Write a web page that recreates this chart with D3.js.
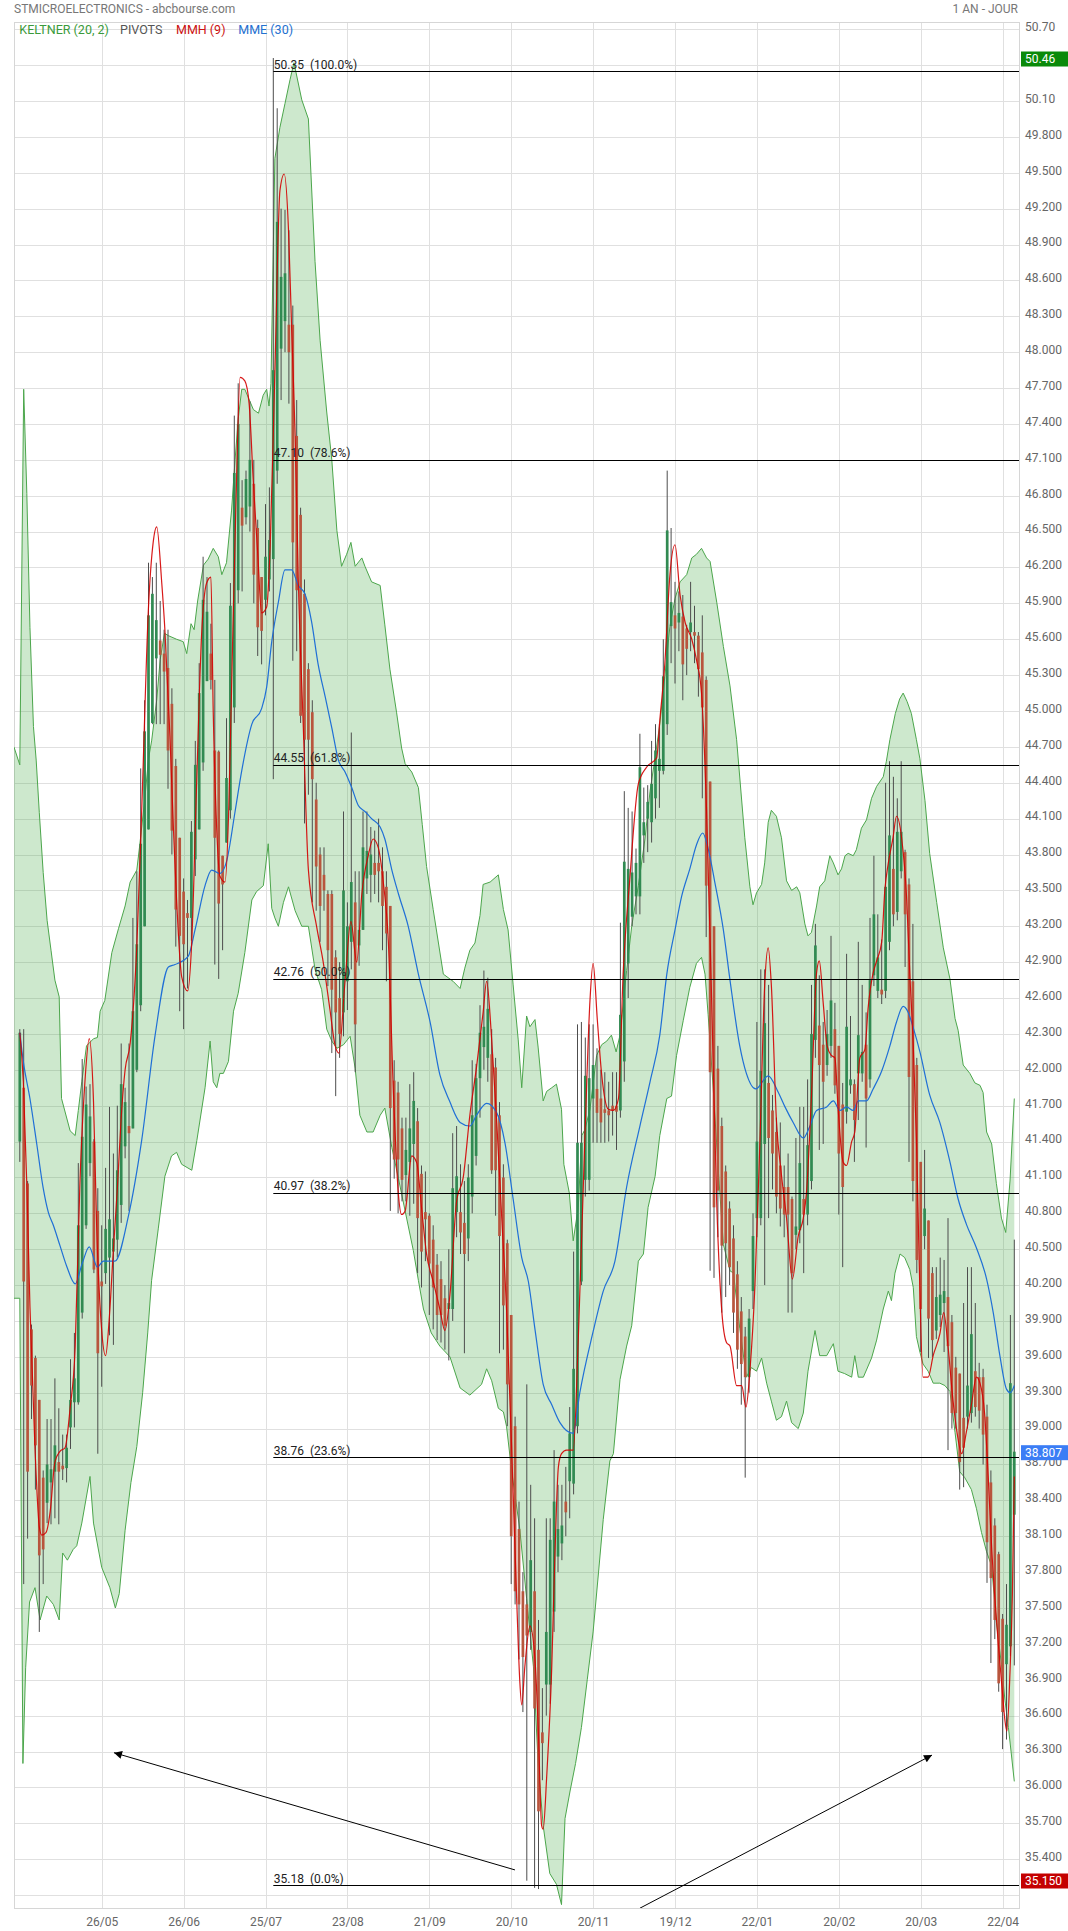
<!DOCTYPE html>
<html><head><meta charset="utf-8">
<script src="https://cdn.jsdelivr.net/npm/d3@7"></script>
<style>
html,body{margin:0;padding:0;background:#fff;}
svg{display:block;font-family:Roboto,"Noto Sans",sans-serif;}
</style></head><body>
<svg id="chart" width="1068" height="1931"></svg>
<script>
// ---------------- DATA ----------------
const xTickIndex = [21,42,63,84,105,126,147,168,189,210,231,252];
const xTickLabels = ["26/05","26/06","25/07","23/08","21/09","20/10","20/11","19/12","22/01","20/02","20/03","22/04"];
const yTicks = [50.7,50.4,50.1,49.8,49.5,49.2,48.9,48.6,48.3,48.0,47.7,47.4,47.1,46.8,46.5,46.2,45.9,45.6,45.3,45.0,44.7,44.4,44.1,43.8,43.5,43.2,42.9,42.6,42.3,42.0,41.7,41.4,41.1,40.8,40.5,40.2,39.9,39.6,39.3,39.0,38.7,38.4,38.1,37.8,37.5,37.2,36.9,36.6,36.3,36.0,35.7,35.4,35.1];
const yTickLabels = ["50.70","","50.10","49.800","49.500","49.200","48.900","48.600","48.300","48.000","47.700","47.400","47.100","46.800","46.500","46.200","45.900","45.600","45.300","45.000","44.700","44.400","44.100","43.800","43.500","43.200","42.900","42.600","42.300","42.000","41.700","41.400","41.100","40.800","40.500","40.200","39.900","39.600","39.300","39.000","38.700","38.400","38.100","37.800","37.500","37.200","36.900","36.600","36.300","36.000","35.700","35.400",""];

const opens = [
41.40,41.85,41.05,39.83,39.59,39.24,38.59,38.38,38.55,38.64,
38.72,38.69,38.67,39.01,39.22,39.22,39.97,40.70,41.22,41.40,
40.82,40.23,40.30,40.43,40.48,40.58,40.87,41.36,41.53,41.51,
42.00,42.54,43.20,44.01,44.90,45.44,45.59,45.48,45.36,45.06,
44.54,43.94,43.49,43.31,43.27,43.76,44.01,44.57,45.25,45.48,
44.67,44.66,43.79,43.90,44.17,45.03,46.01,46.70,46.62,46.71,
46.90,46.53,46.12,45.93,46.10,46.27,47.01,48.03,48.26,48.23,
48.23,47.30,46.64,45.98,45.35,44.99,44.26,43.80,43.63,43.47,
43.47,42.94,42.60,42.48,42.74,43.07,43.40,43.04,43.17,43.60,
43.63,43.73,43.73,43.66,43.53,43.37,41.91,41.81,41.51,41.12,
41.23,41.38,41.57,41.13,40.81,40.78,40.58,40.37,40.25,40.09,
40.00,40.00,40.81,40.81,40.72,40.59,40.94,41.28,41.93,42.19,
42.10,42.13,42.02,41.62,41.10,40.55,39.95,39.02,38.16,37.64,
37.53,37.30,37.64,37.15,36.46,36.86,36.86,37.47,37.93,38.04,
38.39,38.56,38.54,39.02,40.23,41.08,41.08,41.76,41.84,41.76,
41.67,41.66,41.70,41.70,41.66,42.07,42.89,43.28,43.45,43.45,
43.96,44.10,44.07,44.27,44.50,44.50,44.89,45.71,45.80,45.74,
45.79,45.69,45.66,45.66,45.63,45.49,45.26,44.41,43.20,42.01,
41.53,41.15,40.84,40.59,40.29,39.98,39.77,39.43,40.15,40.76,
40.76,41.38,41.89,41.66,41.48,41.20,41.02,41.02,40.92,40.62,
40.66,40.92,40.79,41.07,42.25,42.37,42.21,42.04,42.20,42.34,
42.20,41.71,41.65,41.87,41.88,41.97,41.97,42.21,41.92,42.79,
42.66,42.67,42.66,43.07,43.68,43.32,43.66,43.82,43.55,42.74,
42.04,41.23,40.61,40.74,40.30,39.82,39.95,40.05,40.10,39.89,
39.51,39.46,39.09,39.10,39.13,39.48,39.43,39.43,39.10,38.55,
38.19,37.95,37.41,37.03,37.18,38.28];
const highs = [
42.34,42.34,41.07,39.87,39.61,39.24,38.65,39.08,39.08,39.42,
39.17,38.95,38.95,39.58,39.80,41.22,42.09,41.86,41.88,41.42,
41.01,40.70,41.18,41.69,41.30,41.70,42.22,41.85,42.22,43.27,
43.66,44.52,45.09,46.24,46.12,46.24,45.92,45.68,45.68,45.19,
44.60,43.94,43.60,43.42,44.08,44.75,45.40,46.29,46.12,45.73,
45.26,44.67,43.79,44.94,46.07,47.47,47.74,46.93,47.01,47.59,
47.10,46.60,46.12,46.73,46.87,50.46,50.04,49.20,49.19,49.02,
48.39,47.60,46.70,46.10,45.40,45.09,44.40,43.86,43.86,43.50,
43.50,43.00,42.90,44.16,43.40,44.82,43.66,43.66,44.16,44.16,
44.03,44.00,44.10,43.86,43.66,43.37,42.08,41.90,41.60,41.60,
41.88,41.98,41.68,41.20,41.15,40.80,40.70,40.46,40.40,40.20,
40.50,41.47,41.53,41.21,41.07,41.21,42.08,42.05,42.54,42.83,
42.77,42.34,42.10,41.73,41.21,40.58,39.95,39.10,38.39,37.80,
39.37,38.53,38.25,37.40,36.83,38.25,38.25,38.82,38.53,38.53,
38.68,39.18,40.48,42.38,42.40,42.27,42.38,42.38,42.18,42.00,
41.98,41.90,41.98,41.98,43.23,44.33,44.19,44.16,43.85,44.81,
44.36,44.38,44.75,44.89,44.89,45.60,47.01,46.53,46.08,46.00,
45.97,45.72,46.08,45.88,45.66,45.80,45.29,44.41,43.20,42.20,
41.60,41.20,40.90,40.70,40.40,40.10,39.85,40.00,40.80,42.40,
42.84,42.84,42.71,41.79,41.60,41.56,41.20,41.30,40.94,41.43,
41.69,41.69,41.92,42.71,43.22,42.79,42.40,42.50,43.12,42.56,
42.20,41.89,42.97,42.45,41.92,43.07,42.71,42.48,43.27,43.79,
43.30,43.09,44.40,44.58,44.45,44.27,44.58,43.84,43.60,43.22,
42.10,41.23,41.33,40.74,40.35,40.35,40.43,40.41,40.76,39.95,
39.60,39.46,40.05,40.35,40.35,40.05,39.55,39.50,39.20,38.65,
38.25,37.97,37.45,37.70,39.95,40.58];
const lows = [
41.23,37.70,38.08,39.08,38.49,37.30,37.70,38.21,38.20,38.25,
38.20,38.57,38.55,38.83,39.01,39.20,39.92,40.67,41.11,40.30,
38.79,39.35,40.21,39.78,39.70,40.43,40.72,41.26,40.82,41.51,
41.98,42.49,43.20,44.01,44.89,44.89,44.89,44.89,44.35,43.80,
43.03,42.49,42.34,42.68,43.08,43.62,44.01,44.50,45.25,45.18,
42.88,42.76,43.00,43.90,44.10,44.90,45.90,46.00,46.56,46.50,
45.90,45.46,45.39,45.80,46.00,44.43,46.90,47.60,48.00,47.57,
45.42,45.50,44.90,44.06,44.30,43.40,43.33,43.07,43.33,42.70,
42.14,41.78,42.10,42.28,42.50,42.84,41.98,42.87,43.17,43.47,
43.40,43.47,43.40,43.00,42.74,40.82,41.09,40.80,40.90,40.90,
40.78,40.88,40.30,40.18,40.40,39.95,39.83,39.74,39.72,39.66,
39.57,39.90,40.60,40.46,39.63,40.40,40.80,41.20,41.60,42.00,
41.90,41.13,40.78,39.63,39.66,39.02,37.70,37.53,37.07,36.63,
35.22,37.15,35.16,35.15,36.06,36.60,36.70,37.30,37.80,37.90,
38.10,38.25,38.45,38.96,40.20,40.94,40.99,41.39,41.39,41.39,
41.39,41.40,41.45,41.33,41.60,41.90,42.60,43.20,43.30,43.30,
43.73,43.82,43.90,44.10,44.19,44.47,44.80,45.40,45.23,45.50,
45.09,45.30,45.50,45.40,45.12,44.27,43.11,40.32,40.26,40.60,
39.97,40.10,40.20,39.80,39.50,39.20,38.59,39.30,40.00,40.60,
40.70,40.20,40.76,41.00,40.80,40.69,40.60,39.97,39.97,40.50,
40.55,40.30,40.70,41.00,42.10,41.33,41.38,41.95,42.10,41.80,
40.79,40.35,41.55,41.80,41.23,41.58,41.90,41.35,41.85,42.70,
42.60,42.55,42.60,43.00,43.20,43.25,43.60,42.86,41.23,40.90,
40.30,39.64,40.50,39.59,39.60,39.75,39.85,39.64,38.82,39.00,
39.00,38.49,38.51,39.00,39.05,39.10,39.00,38.70,37.71,37.04,
37.24,36.80,36.32,36.40,37.10,37.02];
const closes = [
42.31,40.23,38.64,39.36,38.86,37.94,37.99,38.70,38.66,38.86,
38.64,38.66,38.84,39.24,39.42,40.70,41.44,41.71,41.61,40.33,
39.63,40.19,40.67,40.75,40.59,41.16,41.88,41.73,41.47,42.49,
43.05,43.89,44.83,45.80,45.98,45.76,45.47,45.33,44.67,44.00,
43.34,43.12,43.05,43.27,43.99,44.55,45.15,45.93,45.83,45.26,
43.94,43.39,43.55,44.44,45.88,46.99,47.40,46.55,46.94,47.10,
46.14,45.70,45.67,46.29,46.43,47.85,49.09,48.63,48.66,48.00,
46.41,46.01,44.96,44.76,44.76,44.43,43.70,43.37,43.50,43.00,
42.67,42.48,42.30,43.50,43.20,43.57,42.38,43.17,43.86,43.83,
43.80,43.63,43.66,43.37,43.14,41.68,41.25,41.25,41.08,41.33,
41.51,41.74,40.76,40.48,40.75,40.38,40.18,39.95,39.95,39.86,
40.05,41.01,41.11,40.64,40.46,41.10,41.62,41.93,42.31,42.36,
42.51,41.16,41.16,40.61,40.03,39.37,38.10,37.64,37.53,37.09,
37.27,37.90,36.66,35.80,36.37,37.30,38.07,38.39,38.16,38.19,
38.30,38.96,39.50,41.39,41.39,41.95,41.93,42.04,41.64,41.56,
41.64,41.62,41.66,41.65,42.46,43.74,43.68,43.65,43.73,44.53,
44.07,44.24,44.39,44.67,44.60,45.29,46.51,45.91,45.69,45.82,
45.39,45.52,45.74,45.63,45.35,45.03,43.54,41.98,40.85,40.99,
40.53,40.55,40.35,39.97,39.66,39.54,39.43,39.92,40.61,41.40,
41.99,42.39,41.43,41.30,40.94,40.84,40.79,40.79,40.30,40.69,
41.22,40.79,41.37,42.30,43.04,42.04,41.90,42.30,42.58,41.87,
41.30,41.02,42.36,41.92,41.58,42.29,42.15,41.76,42.75,43.30,
42.94,42.63,43.53,43.96,43.30,43.99,43.99,43.30,41.94,41.07,
40.41,40.00,40.84,39.92,39.74,40.10,40.12,40.15,39.69,39.13,
39.13,38.72,38.84,39.36,39.79,39.18,39.15,38.95,38.05,37.75,
37.40,36.87,36.63,37.36,39.38,38.807];

// Keltner (20,2) band edges: [candle index, value]
const keltnerUpper = [[-1.5,44.70],[0,44.55],[1,47.69],[1.8,46.82],[2.6,45.70],[3.5,44.87],[4.2,44.59],[5,44.15],[6,43.65],[7,43.25],[8,43.0],[9,42.75],[10.1,42.61],[10.7,41.76],[12.9,41.49],[14.2,41.45],[15.0,41.66],[15.9,41.90],[17.1,42.20],[18.9,42.26],[19.9,42.27],[20.6,42.49],[21.8,42.58],[23.6,42.98],[25.3,43.18],[27.0,43.37],[28.3,43.57],[30.0,43.67],[30.8,43.89],[32.1,44.28],[33.0,44.60],[33.8,44.75],[35.1,45.09],[36.0,45.43],[37.1,45.65],[38.1,45.63],[40.2,45.60],[41.9,45.58],[42.8,45.48],[43.9,45.73],[44.7,45.68],[45.6,45.92],[47.1,46.22],[48.3,46.27],[49.6,46.36],[50.9,46.29],[51.8,46.14],[53.0,46.24],[54.3,46.68],[55.2,47.10],[56.0,47.44],[56.9,47.69],[57.7,47.69],[58.6,47.62],[59.9,47.52],[61.2,47.49],[62.4,47.64],[63.3,47.69],[63.9,47.55],[64.4,47.74],[65.4,49.62],[66.7,49.88],[68.0,50.08],[69.3,50.28],[70.3,50.42],[72.3,50.11],[74.0,49.95],[75.7,48.76],[77.0,48.10],[78.7,47.50],[80.0,47.10],[81.3,46.51],[82.5,46.21],[83.8,46.31],[84.9,46.41],[86.0,46.21],[87.7,46.28],[88.5,46.21],[90.2,46.08],[92.4,46.05],[93.6,45.72],[94.9,45.35],[96.6,44.99],[97.9,44.69],[98.8,44.56],[100.5,44.49],[102.2,44.36],[103.2,44.05],[104.3,43.70],[106.0,43.34],[108.6,42.80],[111.1,42.74],[112.9,42.68],[114.1,42.85],[115.4,43.00],[116.7,43.06],[118.0,43.29],[118.8,43.55],[120.6,43.57],[122.7,43.63],[124.0,43.34],[125.2,43.17],[126.5,42.71],[127.8,42.25],[128.7,41.85],[129.95,42.45],[130.8,42.36],[132.1,42.42],[132.9,42.19],[134.2,41.74],[135.1,41.82],[136.4,41.85],[137.6,41.88],[138.9,41.67],[139.5,41.21],[140.9,40.97],[141.9,40.57],[143.2,40.85],[144.1,41.45],[144.9,41.50],[146.2,41.67],[147.9,42.12],[149.2,42.21],[150.5,42.24],[151.7,42.29],[152.9,42.15],[153.9,42.29],[155.6,42.83],[156.9,43.20],[158.6,43.54],[160.3,43.93],[161.6,44.33],[162.9,44.61],[164.1,44.89],[165.4,45.29],[166.7,45.71],[168.0,45.94],[169.3,46.08],[171.0,46.14],[172.3,46.28],[173.5,46.31],[174.8,46.36],[176.1,46.28],[177.0,46.25],[178.7,45.91],[180.4,45.54],[182.1,45.21],[183.8,44.76],[185.9,43.94],[187.2,43.53],[188.0,43.38],[188.9,43.48],[190.2,43.55],[191.0,43.73],[191.9,44.07],[192.7,44.17],[194.0,44.12],[195.3,43.94],[196.6,43.58],[197.9,43.50],[199.2,43.53],[200.0,43.48],[201.3,43.22],[202.1,43.12],[203.0,43.15],[204.3,43.37],[205.1,43.53],[206.4,43.58],[207.7,43.79],[208.6,43.73],[209.8,43.63],[210.7,43.68],[211.6,43.79],[212.4,43.81],[213.7,43.79],[214.5,43.84],[215.8,44.02],[217.1,44.09],[218.4,44.27],[219.7,44.37],[221.4,44.45],[222.2,44.58],[223.1,44.76],[224.5,44.98],[225.6,45.10],[226.5,45.15],[227.5,45.08],[228.6,44.98],[229.9,44.76],[230.8,44.60],[232.1,44.25],[233.3,43.81],[235.1,43.40],[236.8,43.02],[238.5,42.76],[239.8,42.43],[240.6,42.33],[241.9,42.04],[243.6,41.97],[244.9,41.89],[246.2,41.87],[247.0,41.81],[247.9,41.48],[249.2,41.38],[250.4,41.05],[251.7,40.76],[252.8,40.64],[253.9,41.07],[255,41.76]];
const keltnerLower = [[-1.5,40.09],[0,40.09],[0.8,36.2],[1.5,37.0],[2.5,37.55],[3.9,37.67],[5.2,37.40],[6.9,37.60],[8.6,37.53],[10.1,37.40],[11.0,37.96],[12.2,37.90],[13.7,37.99],[14.6,38.02],[15.9,38.21],[18.0,38.60],[18.9,38.21],[21.0,37.84],[23.1,37.67],[24.5,37.50],[25.5,37.62],[27,38.15],[28.5,38.55],[30,38.85],[31.5,39.3],[32.8,39.8],[33.8,40.24],[35.5,40.67],[37.2,41.11],[38.9,41.28],[40.2,41.31],[41.5,41.21],[44.1,41.16],[45.4,41.41],[47.5,41.85],[48.8,42.24],[49.6,41.90],[50.5,41.85],[51.3,41.97],[52.2,41.97],[53.5,42.07],[54.8,42.49],[56.0,42.64],[57.7,42.98],[59.5,43.42],[60.7,43.49],[62.45,43.54],[63.7,43.89],[64.6,43.35],[65.4,43.27],[66.3,43.20],[67.6,43.40],[68.9,43.53],[70.6,43.33],[72.3,43.20],[74.0,43.20],[75.7,42.84],[77.4,42.67],[78.7,42.34],[80.0,42.24],[81.3,42.18],[83.0,42.21],[84.7,42.28],[86.0,42.01],[87.2,41.62],[89.0,41.48],[90.6,41.48],[92.4,41.62],[93.6,41.68],[95.4,41.35],[97.1,41.09],[98.8,40.82],[100.9,40.49],[102.2,40.24],[103.5,40.0],[105.5,39.8],[107.7,39.69],[110.3,39.60],[112.9,39.34],[115.4,39.28],[118.4,39.37],[119.7,39.50],[121.0,39.40],[122.7,39.17],[124.0,39.14],[124.8,39.02],[126.1,38.65],[128.2,38.16],[129.95,37.58],[131.7,37.01],[132.9,36.20],[134.2,35.68],[135.9,35.28],[137.6,35.19],[138.9,35.02],[139.8,35.74],[141.1,35.97],[142.5,36.2],[144,36.5],[145.5,36.9],[147,37.3],[148.4,37.8],[149.6,38.24],[151.3,38.73],[152.2,38.79],[153.9,39.41],[155.6,39.69],[156.9,39.86],[158.6,40.40],[159.9,40.46],[161.1,40.85],[162.9,41.11],[164.1,41.45],[165.9,41.76],[167.1,41.78],[168.4,42.12],[170.1,42.41],[171.8,42.69],[173.5,42.89],[174.8,42.94],[175.7,42.80],[176.5,42.46],[177.8,41.84],[179.1,41.16],[180.4,40.54],[182.1,40.32],[183.0,40.30],[184.6,39.84],[186.3,39.43],[187.6,39.51],[188.9,39.48],[190.2,39.59],[191.5,39.38],[192.7,39.23],[194.0,39.07],[195.3,39.10],[196.6,39.23],[197.9,39.05],[199.6,39.00],[200.9,39.13],[202.1,39.48],[203.9,39.82],[205.1,39.61],[206.9,39.61],[208.6,39.71],[209.8,39.48],[211.5,39.46],[213.3,39.43],[214.1,39.61],[215.0,39.43],[216.3,39.43],[218.4,39.59],[219.7,39.74],[221.4,40.00],[222.7,40.15],[223.5,40.07],[224.4,40.30],[225.7,40.46],[226.9,40.43],[228.2,40.33],[229.1,40.18],[229.9,39.77],[230.8,39.64],[231.6,39.54],[232.9,39.48],[234.2,39.38],[235.9,39.38],[237.2,39.36],[238.5,39.31],[239.8,38.97],[241.0,38.64],[242.3,38.59],[244.0,38.49],[245.3,38.33],[246.6,38.13],[247.9,37.97],[249.2,37.85],[250.4,37.38],[251.7,37.03],[252.6,36.73],[253.5,36.5],[255,36.05]];
// MMH (9) red line
const mmh = [[0,42.31],[0.9,41.90],[1.8,41.04],[2.6,40.02],[3.9,38.83],[5.0,38.18],[5.6,38.11],[6.7,38.13],[7.8,38.31],[9.0,38.72],[10.3,38.81],[11.6,38.84],[12.9,39.17],[14.2,39.68],[15.4,41.04],[16.7,41.90],[17.8,42.26],[18.9,41.73],[19.7,40.70],[21.0,39.82],[22.0,39.61],[23.0,39.95],[24.0,40.50],[25.0,41.00],[26.0,41.60],[27.0,42.00],[28.3,42.22],[30.0,43.03],[31.3,44.21],[33.0,45.87],[34.2,46.41],[35.1,46.54],[36.4,46.07],[37.2,45.68],[38.5,44.79],[39.4,44.01],[40.2,43.42],[41.5,42.78],[43.05,42.66],[44.1,43.08],[45.35,44.40],[46.6,45.63],[47.9,46.07],[49.0,46.12],[49.6,44.99],[50.5,44.01],[51.3,43.62],[52.6,43.57],[53.6,44.21],[54.3,45.19],[55.4,46.71],[56.5,47.79],[57.7,47.76],[58.8,47.57],[59.9,46.90],[61.0,46.32],[62.0,45.82],[63.3,45.87],[64.2,46.38],[65.4,47.83],[66.7,49.35],[67.8,49.49],[68.9,49.02],[69.7,48.20],[70.6,47.30],[71.4,46.11],[72.7,44.86],[74.0,43.67],[76.1,43.20],[77.8,42.90],[79.5,42.51],[80.8,42.21],[81.8,42.14],[83.4,42.74],[84.9,43.24],[86.4,42.90],[87.7,43.47],[89.4,43.80],[90.6,43.93],[91.9,43.86],[93.2,43.57],[94.5,43.07],[95.8,41.81],[97.1,40.95],[97.9,40.79],[98.8,40.82],[100.5,41.28],[101.8,41.22],[103.0,40.85],[104.3,40.46],[106.0,40.23],[107.7,40.00],[109.0,39.82],[110.3,40.12],[112.0,40.90],[113.7,41.10],[115.4,41.62],[117.1,42.02],[118.8,42.48],[119.7,42.74],[121.0,42.25],[122.3,41.56],[123.5,40.81],[124.8,40.00],[126.1,38.85],[127.4,37.58],[128.2,36.89],[128.7,36.69],[129.5,37.01],[130.8,37.35],[132.1,37.07],[133.0,36.43],[133.8,35.68],[134.2,35.65],[135.1,36.09],[136.4,37.01],[137.2,37.93],[138.1,38.68],[138.9,38.79],[140.2,38.82],[141.9,38.82],[143.2,39.75],[144.9,41.44],[146.2,42.58],[147.0,42.89],[148.1,42.41],[149.2,41.96],[150.9,41.67],[152.2,41.66],[153.5,41.76],[154.7,42.80],[156.4,43.59],[158.6,44.39],[160.7,44.53],[163.3,44.61],[164.1,44.92],[165.4,45.40],[166.7,46.14],[168.0,46.39],[169.3,45.97],[170.6,45.74],[172.3,45.60],[173.5,45.43],[174.8,45.15],[176.1,44.16],[177.4,42.58],[178.7,40.88],[180.0,39.98],[181.2,39.72],[182.1,39.69],[183.8,39.36],[185.1,39.36],[186.2,39.18],[187.2,39.48],[188.5,40.20],[189.8,41.43],[191.0,42.71],[191.9,43.02],[192.7,42.71],[194.0,41.58],[195.3,41.12],[196.6,40.76],[198.1,40.25],[199.6,40.61],[200.9,40.76],[201.7,40.97],[203.0,41.79],[204.3,42.81],[205.0,42.91],[206.0,42.56],[207.0,42.20],[208.1,42.12],[209.0,42.10],[209.8,41.69],[211.1,41.23],[212.0,41.20],[213.3,41.40],[214.1,41.48],[215.4,42.10],[216.7,42.17],[217.5,42.51],[218.8,42.81],[219.7,42.91],[221.0,43.07],[221.8,43.50],[222.7,43.73],[223.9,43.94],[224.8,44.12],[226.1,43.94],[227.4,43.43],[228.2,42.81],[229.1,42.20],[229.9,41.43],[230.6,40.41],[231.6,39.43],[232.9,39.43],[234.2,39.61],[235.9,39.79],[236.9,39.97],[238.0,39.69],[239.3,39.23],[240.4,38.95],[241.5,38.79],[242.7,38.97],[244.0,39.20],[245.3,39.43],[246.2,39.38],[247.4,39.12],[248.3,38.61],[249.2,38.00],[250.0,37.59],[250.9,37.20],[252.0,36.78],[252.6,36.56],[253.1,36.47],[253.9,36.97],[254.5,37.60],[255,38.60]];
// MME (30) blue line
const mme = [[0,42.31],[0.9,42.07],[2.6,41.76],[4.3,41.39],[6.0,41.01],[7.3,40.81],[8.6,40.70],[10.3,40.53],[12.0,40.36],[14.2,40.21],[16,40.38],[17.8,40.52],[19.9,40.35],[21.4,40.40],[24.4,40.40],[27.8,40.77],[31.25,41.41],[34.7,42.29],[38.1,42.86],[39.8,42.88],[43.2,42.95],[45.0,43.18],[47.5,43.54],[49.2,43.67],[51.3,43.64],[53.0,43.74],[55.2,44.16],[56.9,44.50],[59.5,44.89],[62.0,45.02],[63.3,45.2],[64.6,45.58],[66.3,45.91],[68.0,46.18],[69.7,46.18],[71.4,46.05],[73.1,45.98],[74.8,45.75],[76.5,45.39],[78.3,45.12],[80.0,44.86],[81.7,44.59],[83.4,44.49],[85.1,44.36],[86.8,44.21],[88.5,44.16],[90.2,44.10],[92.4,44.03],[93.6,43.93],[95.4,43.67],[97.1,43.47],[99.6,43.20],[102.2,42.80],[105.2,42.40],[107.7,41.96],[110.3,41.73],[112.9,41.56],[115.4,41.53],[117.1,41.62],[119.7,41.72],[122.3,41.64],[124.4,41.39],[126.5,40.92],[128.7,40.43],[130.4,40.23],[132.1,39.83],[134.2,39.37],[136.4,39.20],[138.5,39.05],[141.9,38.96],[143.6,39.30],[147.0,39.81],[149.6,40.15],[152.6,40.40],[155.6,41.02],[159.0,41.53],[161.6,41.90],[164.1,42.29],[165.9,42.80],[168.0,43.17],[169.7,43.45],[171.8,43.68],[173.5,43.88],[175.1,43.98],[176.5,43.85],[178.2,43.57],[180.4,43.17],[182.1,42.75],[184.6,42.20],[186.3,41.97],[188.7,41.84],[191.9,41.95],[194.5,41.81],[196.2,41.69],[198.3,41.56],[200.9,41.43],[202.6,41.53],[204.3,41.66],[206.9,41.69],[208.6,41.74],[210.3,41.66],[212.0,41.69],[213.7,41.66],[215.0,41.74],[217.1,41.74],[218.8,41.84],[221.0,41.99],[223.1,42.20],[224.8,42.40],[226.5,42.53],[227.8,42.48],[229.1,42.35],[230.8,42.15],[233.3,41.79],[235.9,41.56],[238.5,41.23],[240.6,40.92],[242.7,40.71],[245.3,40.51],[247.9,40.25],[249.6,39.97],[251.3,39.61],[253.0,39.33],[254.0,39.30],[255,39.36]];

const fibLevels = [50.35,47.10,44.55,42.76,40.97,38.76,35.18];
const fibPct = ["100.0%","78.6%","61.8%","50.0%","38.2%","23.6%","0.0%"];
const fibStartIndex = 65;
const priceTags = [{value:50.46,label:"50.46",color:"#0a8a0a"},{value:38.807,label:"38.807",color:"#3b7df5"},{value:35.15,label:"35.150",color:"#c40000"}];
// arrows in [index, value] coordinates
const arrows = [{from:[126.97,35.31],to:[24.15,36.29]},{from:[159.0,34.99],to:[233.9,36.27]}];
const legendItems = [{t:"KELTNER (20, 2)",c:"#3a9a3a"},{t:"PIVOTS",c:"#555"},{t:"MMH (9)",c:"#cc1111"},{t:"MME (30)",c:"#2370d0"}];

// ---------------- DRAW ----------------
const plot = {left:14, top:22, right:1019, bottom:1908};
const svg = d3.select("#chart");
const x = d3.scaleLinear().domain([0,255]).range([19.8,1014.3]);
const y = d3.scaleLinear().domain([35.0,50.7]).range([1907.0,29.3]);

const defs = svg.append("defs");
defs.append("clipPath").attr("id","clip").append("rect")
  .attr("x",plot.left).attr("y",plot.top).attr("width",plot.right-plot.left).attr("height",plot.bottom-plot.top);
defs.append("marker").attr("id","ah").attr("viewBox","0 0 10 10").attr("refX",10).attr("refY",5)
  .attr("markerWidth",11).attr("markerHeight",8).attr("markerUnits","userSpaceOnUse").attr("orient","auto")
  .append("path").attr("d","M0,0L10,5L0,10z").attr("fill","#000");

// grid
const grid = svg.append("g");
grid.selectAll("line.h").data(yTicks).join("line")
  .attr("x1",plot.left).attr("x2",plot.right)
  .attr("y1",d=>Math.round(y(d))+0.5).attr("y2",d=>Math.round(y(d))+0.5)
  .attr("stroke","#e0e0e0").attr("stroke-width",1);
grid.selectAll("line.v").data(xTickIndex).join("line")
  .attr("y1",plot.top).attr("y2",plot.bottom)
  .attr("x1",d=>Math.round(x(d))+0.5).attr("x2",d=>Math.round(x(d))+0.5)
  .attr("stroke","#e0e0e0").attr("stroke-width",1);
// border
svg.append("rect").attr("x",plot.left+0.5).attr("y",plot.top+0.5)
  .attr("width",plot.right-plot.left).attr("height",plot.bottom-plot.top)
  .attr("fill","none").attr("stroke","#d6d6d6");

const P = svg.append("g").attr("clip-path","url(#clip)");
const lineGen = d3.line().x(d=>x(d[0])).y(d=>y(d[1]));

// Keltner band
const bandPath = lineGen(keltnerUpper) + "L" + lineGen(keltnerLower.slice().reverse()).slice(1) + "Z";
P.append("path").attr("d",bandPath).attr("fill","rgba(70,170,70,0.27)").attr("stroke","none");
P.append("path").attr("d",lineGen(keltnerUpper)).attr("fill","none").attr("stroke","#4ca64c").attr("stroke-width",1);
P.append("path").attr("d",lineGen(keltnerLower)).attr("fill","none").attr("stroke","#4ca64c").attr("stroke-width",1);

// candles
const idx = d3.range(opens.length);
const bw = 2.7;
P.selectAll("line.wick").data(idx).join("line")
  .attr("x1",i=>x(i)).attr("x2",i=>x(i))
  .attr("y1",i=>y(Math.max(highs[i],opens[i],closes[i])))
  .attr("y2",i=>y(Math.min(lows[i],opens[i],closes[i])))
  .attr("stroke","#4d4d4d").attr("stroke-width",1);
P.selectAll("rect.body").data(idx).join("rect")
  .attr("x",i=>x(i)-bw/2).attr("width",bw)
  .attr("y",i=>y(Math.max(opens[i],closes[i])))
  .attr("height",i=>Math.max(1,Math.abs(y(opens[i])-y(closes[i]))))
  .attr("fill",i=>closes[i]>=opens[i]?"#318a52":"#b8553d");

// indicator lines
const smooth = d3.line().x(d=>x(d[0])).y(d=>y(d[1])).curve(d3.curveMonotoneX);
P.append("path").attr("d",smooth(mme)).attr("fill","none").attr("stroke","#1f6fd6").attr("stroke-width",1.2);
P.append("path").attr("d",smooth(mmh)).attr("fill","none").attr("stroke","#d40000").attr("stroke-width",1.2).attr("stroke-opacity",0.9);

// fibonacci
const fib = P.append("g");
fib.selectAll("line").data(fibLevels).join("line")
  .attr("x1",x(fibStartIndex)).attr("x2",plot.right)
  .attr("y1",d=>Math.round(y(d))+0.5).attr("y2",d=>Math.round(y(d))+0.5)
  .attr("stroke","#000").attr("stroke-width",1);
fib.selectAll("text").data(fibLevels).join("text")
  .attr("x",x(fibStartIndex)+0.5).attr("y",d=>y(d)-2.5)
  .style("white-space","pre").attr("font-size",12).attr("fill","#222")
  .text((d,i)=>d.toFixed(2)+"  ("+fibPct[i]+")");

// arrows
P.selectAll("line.arrow").data(arrows).join("line")
  .attr("x1",d=>x(d.from[0])).attr("y1",d=>y(d.from[1]))
  .attr("x2",d=>x(d.to[0])).attr("y2",d=>y(d.to[1]))
  .attr("stroke","#000").attr("stroke-width",1).attr("marker-end","url(#ah)");

// axes
const yAxis = svg.append("g").attr("transform",`translate(${plot.right},0)`)
  .call(d3.axisRight(y).tickValues(yTicks).tickFormat((d,i)=>yTickLabels[i]).tickSize(0).tickPadding(6));
yAxis.select(".domain").remove();
yAxis.selectAll("text").attr("font-size",12).attr("fill","#666").attr("font-family","Roboto").attr("y",-2.5);

const xAxis = svg.append("g").attr("transform",`translate(0,${plot.bottom})`)
  .call(d3.axisBottom(x).tickValues(xTickIndex).tickFormat((d,i)=>xTickLabels[i]).tickSize(0).tickPadding(9));
xAxis.select(".domain").remove();
xAxis.selectAll("text").attr("font-size",12).attr("fill","#666").attr("font-family","Roboto");

// price tags
const tags = svg.append("g");
priceTags.forEach(t=>{
  const cy = Math.min(y(t.value)+1, 1881);
  tags.append("rect").attr("x",1021).attr("y",cy-7.5).attr("width",47).attr("height",15).attr("fill",t.color);
  tags.append("text").attr("x",1025).attr("y",cy).attr("dy","0.35em").attr("font-size",12)
    .attr("fill","#fff").text(t.label);
});

// header & legend
svg.append("text").attr("x",14).attr("y",8.5).attr("dy","0.35em").attr("font-size",12).attr("fill","#777")
  .text("STMICROELECTRONICS - abcbourse.com");
svg.append("text").attr("x",1018).attr("y",8.5).attr("dy","0.35em").attr("text-anchor","end").attr("font-size",12).attr("fill","#777")
  .text("1 AN - JOUR");
const legX = [19.3,120,176,238.3];
svg.append("g").selectAll("text").data(legendItems).join("text")
  .attr("x",(d,i)=>legX[i]).attr("y",29.3).attr("dy","0.35em").attr("font-size",12.5)
  .attr("fill",d=>d.c).text(d=>d.t);
</script>
</body></html>
